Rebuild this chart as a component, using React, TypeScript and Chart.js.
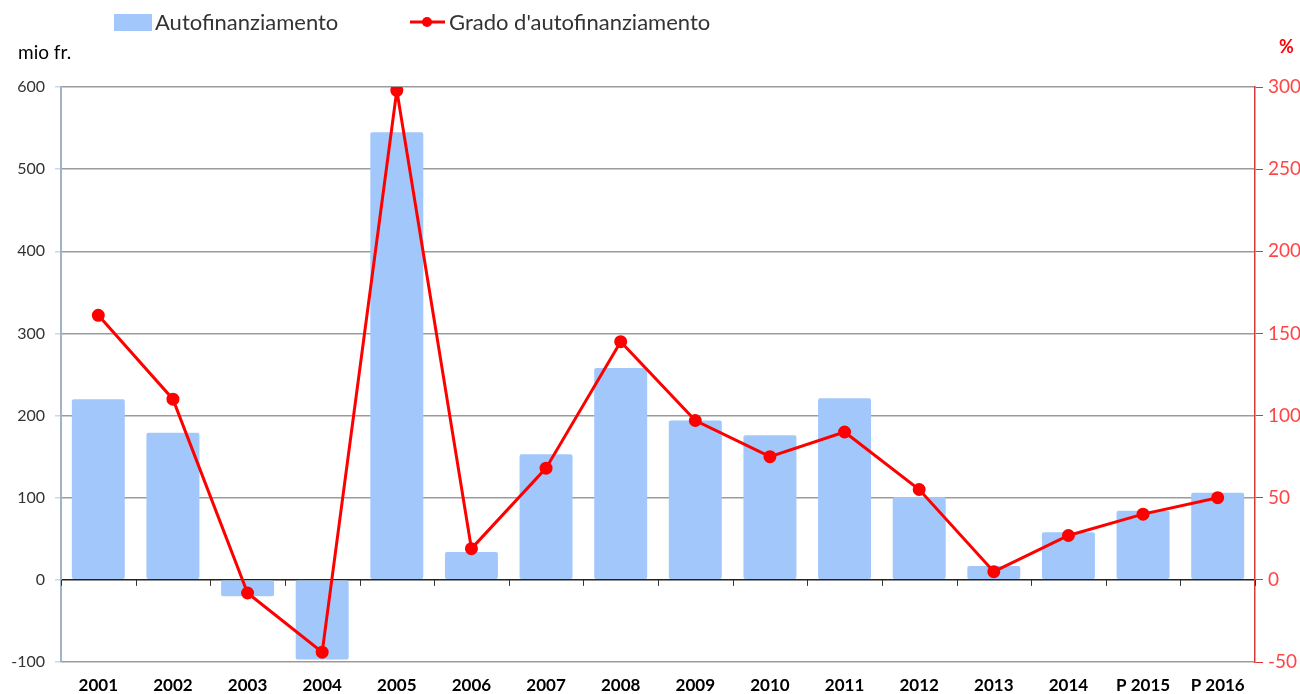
import React, { useEffect, useRef } from "react";
import { Chart, registerables } from "chart.js";

Chart.register(...registerables);

const categories = ["2001", "2002", "2003", "2004", "2005", "2006", "2007", "2008", "2009", "2010", "2011", "2012", "2013", "2014", "P 2015", "P 2016"];
const autofinanziamento = [220, 179, -20, -97, 545, 34, 153, 258, 194, 176, 221, 101, 17, 58, 84, 106];
const gradoAutofinanziamento = [161, 110, -8, -44, 298, 19, 68, 145, 97, 75, 90, 55, 5, 27, 40, 50];
const leftTitle = "mio fr.";
const rightTitle = "%";
const barLabel = "Autofinanziamento";
const lineLabel = "Grado d'autofinanziamento";

const FONT = "Lato, 'Open Sans', sans-serif";
const BAR_COLOR = "#a2c8fb";
const RED = "#ff0000";

const overlayPlugin = {
  id: "overlay",
  afterDraw(chart: any) {
    const ctx = chart.ctx;
    const x = chart.scales.x;
    const y = chart.scales.y;
    ctx.save();
    // x tick marks at zero line
    const zy = y.getPixelForValue(0);
    ctx.strokeStyle = "#333";
    ctx.lineWidth = 1;
    const n = categories.length;
    const w = (x.right - x.left) / n;
    for (let i = 0; i <= n; i++) {
      const px = Math.round(x.left + w * i) + 0.5;
      ctx.beginPath();
      ctx.moveTo(px, zy);
      ctx.lineTo(px, zy + 6);
      ctx.stroke();
    }
    // legend
    ctx.fillStyle = BAR_COLOR;
    ctx.fillRect(114, 14, 38, 17);
    ctx.font = `22px ${FONT}`;
    ctx.fillStyle = "#333";
    ctx.textBaseline = "middle";
    ctx.textAlign = "left";
    ctx.fillText(barLabel, 155, 23);
    ctx.strokeStyle = RED;
    ctx.lineWidth = 3;
    ctx.beginPath();
    ctx.moveTo(410, 22);
    ctx.lineTo(445, 22);
    ctx.stroke();
    ctx.fillStyle = RED;
    ctx.beginPath();
    ctx.arc(427, 22, 5, 0, Math.PI * 2);
    ctx.fill();
    ctx.fillStyle = "#333";
    ctx.fillText(lineLabel, 449, 23);
    // axis titles
    ctx.font = `19px ${FONT}`;
    ctx.fillStyle = "#000";
    ctx.fillText(leftTitle, 18, 53);
    ctx.font = `bold 18px ${FONT}`;
    ctx.fillStyle = RED;
    ctx.fillText(rightTitle, 1279, 47);
    ctx.restore();
  },
};

export default function App() {
  const ref = useRef<HTMLCanvasElement>(null);
  useEffect(() => {
    document.body.style.margin = "0";
    const chart = new Chart(ref.current!, {
      type: "bar",
      data: {
        labels: categories,
        datasets: [
          {
            type: "line",
            label: lineLabel,
            data: gradoAutofinanziamento,
            yAxisID: "y1",
            borderColor: RED,
            backgroundColor: RED,
            borderWidth: 3,
            pointRadius: 5,
            pointHoverRadius: 5,
            tension: 0,
            order: 0,
          } as any,
          {
            type: "bar",
            label: barLabel,
            data: autofinanziamento,
            yAxisID: "y",
            backgroundColor: BAR_COLOR,
            borderRadius: 2,
            borderSkipped: false,
            barPercentage: 0.71,
            categoryPercentage: 1,
            order: 1,
          },
        ],
      },
      plugins: [overlayPlugin],
      options: {
        animation: false,
        responsive: true,
        maintainAspectRatio: false,
        layout: { padding: { top: 87, left: 0, right: 0, bottom: 0 } },
        plugins: { legend: { display: false }, tooltip: { enabled: false } },
        scales: {
          x: {
            grid: { display: false },
            border: { display: false },
            ticks: { color: "#000", font: { family: FONT, size: 17, weight: "bold" }, padding: 5, maxRotation: 0, autoSkip: false },
            afterFit: (s: any) => { s.height = 32; },
          },
          y: {
            position: "left",
            min: -100,
            max: 600,
            ticks: { stepSize: 100, color: "#333", font: { family: FONT, size: 16 }, padding: 10 },
            grid: {
              color: (c: any) => (c.tick && c.tick.value === 0 ? "#222" : "#9b9b9b"),
              lineWidth: 1.5,
              tickColor: "#c5d8f5",
              tickLength: 6,
            },
            border: { color: "#a3b3c7", width: 2 },
            afterFit: (s: any) => { s.width = 61; },
          },
          y1: {
            position: "right",
            min: -50,
            max: 300,
            ticks: { stepSize: 50, color: "#ff4545", font: { family: FONT, size: 19 }, padding: 5 },
            grid: { drawOnChartArea: false, color: RED, tickColor: "#e03030", tickLength: 8 },
            border: { color: "#d83a3a", width: 1.5 },
            afterFit: (s: any) => { s.width = 45; },
          },
        },
      },
    });
    return () => chart.destroy();
  }, []);
  return (
    <div style={{ position: "relative", width: 1300, height: 694 }}>
      <canvas ref={ref} />
    </div>
  );
}
